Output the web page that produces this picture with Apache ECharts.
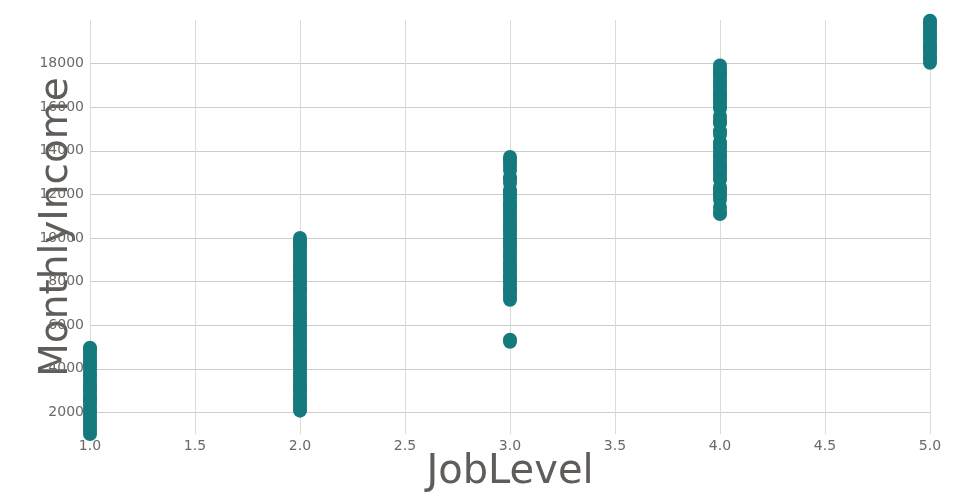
<!DOCTYPE html>
<html><head><meta charset="utf-8">
<script src="https://cdn.jsdelivr.net/npm/echarts@6/dist/echarts.min.js"></script>
<style>html,body{margin:0;padding:0;background:#fff}#c{width:960px;height:500px}</style>
</head><body><div id="c"></div>
<script>
const xTitle = "JobLevel";
const yTitle = "MonthlyIncome";
const level1 = [1009,1150,1300,1450,1600,1750,1900,2050,2200,2350,2500,2650,2800,2950,3100,3250,3400,3550,3700,3850,4000,4150,4300,4450,4600,4750,4900,4968];
const level2 = [2080,2200,2350,2500,2650,2800,2950,3100,3250,3400,3550,3700,3850,4000,4150,4300,4450,4600,4750,4900,5050,5200,5350,5500,5650,5800,5950,6100,6250,6400,6550,6700,6850,7000,7150,7300,7450,7600,7750,7900,8050,8200,8350,8500,8650,8800,8950,9100,9250,9400,9550,9700,9850,9998];
const level3 = [5238,5330,7170,7300,7450,7600,7750,7900,8050,8200,8350,8500,8650,8800,8950,9100,9250,9400,9550,9700,9850,10000,10150,10300,10450,10600,10750,10900,11050,11200,11350,11500,11650,11800,11950,12100,12200,12520,12700,12800,13120,13300,13450,13600,13720];
const level4 = [11100,11200,11420,11750,11900,12050,12200,12340,12670,12800,12950,13100,13250,13400,13550,13700,13850,14000,14150,14300,14400,14730,14900,15260,15400,15600,15950,16100,16250,16400,16550,16700,16850,17000,17150,17300,17450,17600,17750,17910];
const level5 = [18040,18200,18350,18500,18650,18800,18950,19100,19250,19400,19550,19700,19850,19970];

const points = [];
[[1, level1],[2, level2],[3, level3],[4, level4],[5, level5]].forEach(([lv, arr]) => {
  arr.forEach(v => points.push([lv, v]));
});

const chart = echarts.init(document.getElementById('c'), null, {renderer:'canvas'});
const fontFamily = "'DejaVu Sans', sans-serif";
chart.setOption({
  animation: false,
  grid: {left: 90, right: 30, top: 20, bottom: 66, containLabel: false, outerBoundsMode: 'none'},
  xAxis: {
    type: 'value', min: 1, max: 5, interval: 0.5,
    name: xTitle, nameLocation: 'middle', nameGap: 19, nameMoveOverlap: false,
    nameTextStyle: {fontSize: 40, color: '#5f5c5a', fontFamily},
    axisLine: {show: false}, axisTick: {show: false},
    axisLabel: {color: '#6b6866', fontSize: 14, fontFamily, margin: 5,
      formatter: v => v.toFixed(1)},
    splitLine: {show: true, lineStyle: {color: '#dcdad6', width: 1}}
  },
  yAxis: {
    type: 'value', min: 1009, max: 19999, minInterval: 2000, maxInterval: 2000,
    name: yTitle, nameLocation: 'middle', nameGap: 14, nameMoveOverlap: false,
    nameTextStyle: {fontSize: 39, color: '#5f5c5a', fontFamily},
    axisLine: {show: false}, axisTick: {show: false},
    axisLabel: {color: '#6b6866', fontSize: 14, fontFamily, margin: 6,
      showMinLabel: false, showMaxLabel: false, formatter: v => String(v)},
    splitLine: {show: true, showMinLine: false, showMaxLine: false,
      lineStyle: {color: '#cccccc', width: 1}}
  },
  series: [{
    type: 'scatter', data: points, symbolSize: 14,
    itemStyle: {color: '#147a7e', opacity: 1}
  }]
});
</script></body></html>
